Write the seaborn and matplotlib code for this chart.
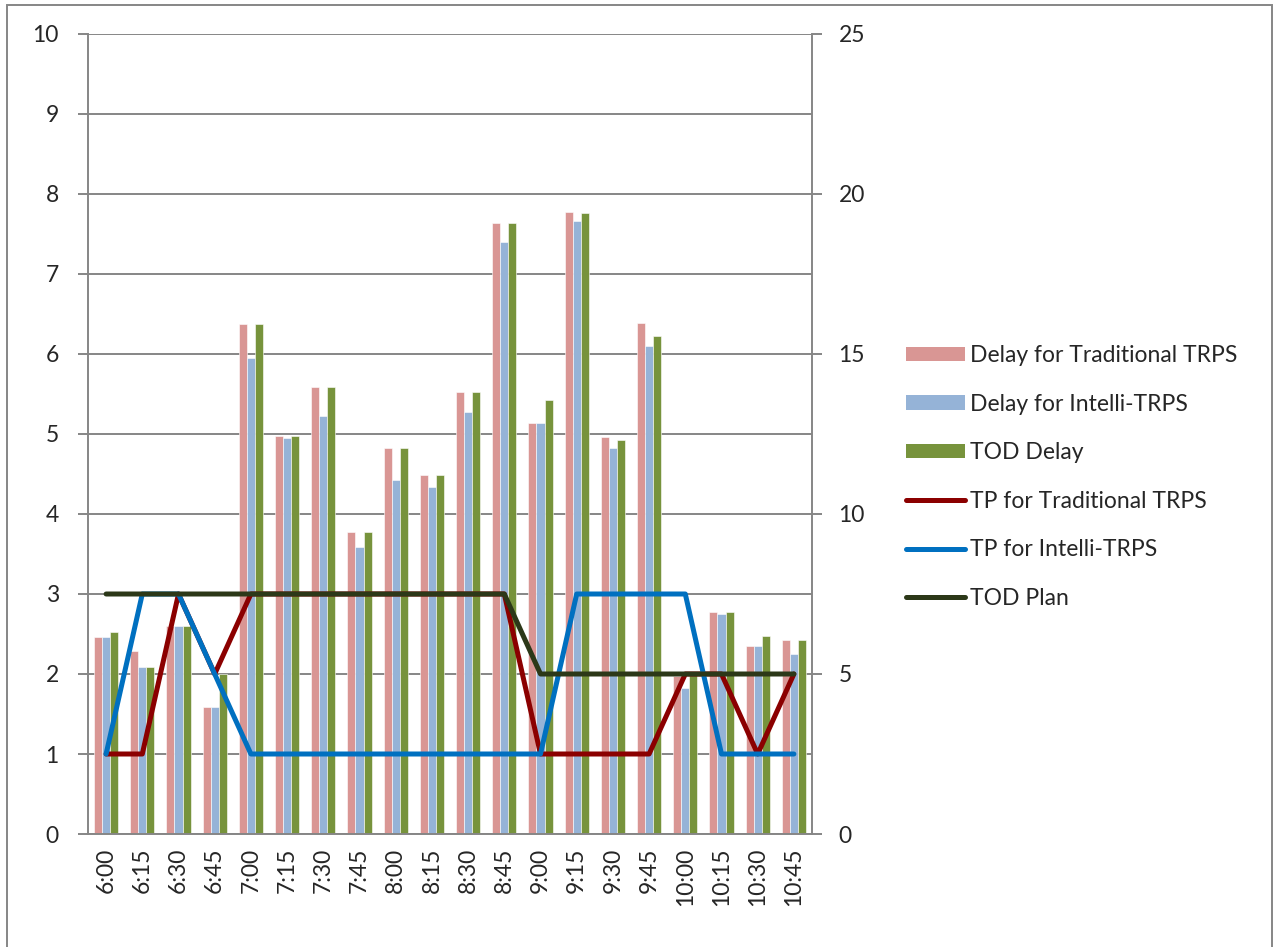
import numpy as np
import pandas as pd
import matplotlib
matplotlib.use("Agg")
import matplotlib.pyplot as plt
import seaborn as sns
from matplotlib.patches import Patch, Rectangle
from matplotlib.lines import Line2D

times = ['6:00', '6:15', '6:30', '6:45', '7:00', '7:15', '7:30', '7:45', '8:00', '8:15',
         '8:30', '8:45', '9:00', '9:15', '9:30', '9:45', '10:00', '10:15', '10:30', '10:45']

delay_trad = [2.46, 2.29, 2.60, 1.59, 6.38, 4.98, 5.59, 3.78, 4.83, 4.49,
              5.53, 7.64, 5.14, 7.78, 4.96, 6.39, 1.98, 2.77, 2.35, 2.42]
delay_intelli = [2.46, 2.09, 2.60, 1.59, 5.95, 4.95, 5.22, 3.59, 4.43, 4.34,
                 5.27, 7.40, 5.14, 7.66, 4.83, 6.10, 1.82, 2.75, 2.35, 2.25]
delay_tod = [2.53, 2.09, 2.60, 2.00, 6.38, 4.98, 5.59, 3.78, 4.83, 4.49,
             5.53, 7.64, 5.42, 7.76, 4.93, 6.22, 2.00, 2.77, 2.48, 2.42]

tp_trad = [1, 1, 3, 2, 3, 3, 3, 3, 3, 3, 3, 3, 1, 1, 1, 1, 2, 2, 1, 2]
tp_intelli = [1, 3, 3, 2, 1, 1, 1, 1, 1, 1, 1, 1, 1, 3, 3, 3, 3, 1, 1, 1]
tod_plan = [3, 3, 3, 3, 3, 3, 3, 3, 3, 3, 3, 3, 2, 2, 2, 2, 2, 2, 2, 2]

bar_names = ['Delay for Traditional TRPS', 'Delay for Intelli-TRPS', 'TOD Delay']
bar_colors = ['#D99694', '#95B3D7', '#77933C']
line_names = ['TP for Traditional TRPS', 'TP for Intelli-TRPS', 'TOD Plan']
line_colors = ['#8B0000', '#0070C0', '#2C3818']

sns.set_style('white')
plt.rcParams['font.family'] = ['Lato', 'DejaVu Sans']
fs = 16.5

bars = pd.DataFrame({'time': times * 3,
                     'delay': delay_trad + delay_intelli + delay_tod,
                     'series': np.repeat(bar_names, len(times))})

fig = plt.figure(figsize=(12.73, 9.47), dpi=100)
ax = fig.add_axes([88/1273, 1 - 834/947, (812-88)/1273, (834-34)/947])

grey = '#868686'
ax.set_ylim(0, 10)
ax.set_yticks(range(0, 11))
ax.yaxis.grid(True, color=grey, lw=1.4)
ax.set_axisbelow(True)

sns.barplot(data=bars, x='time', y='delay', hue='series', palette=bar_colors,
            width=0.665, gap=0, saturation=1, ax=ax, legend=False, zorder=2)
for p in ax.patches:
    p.set_edgecolor('white')
    p.set_linewidth(0.4)

pos = np.arange(len(times))
for vals, c in zip([tp_trad, tp_intelli, tod_plan], line_colors):
    sns.lineplot(x=pos, y=vals, color=c, lw=3.6, ax=ax, zorder=4,
                 solid_capstyle='round', solid_joinstyle='round')

ax.set_xlim(-0.5, len(times) - 0.5)
ax.set_xlabel('')
ax.set_ylabel('')
ax.set_xticks(pos)
ax.set_xticklabels(times, rotation=90, fontsize=fs)
ax.set_xticks(np.arange(-0.5, len(times)), minor=True)
ax.tick_params(axis='x', which='major', length=0, pad=10)
ax.tick_params(axis='x', which='minor', length=7, color=grey, width=1.4, direction='out')
ax.tick_params(axis='y', labelsize=fs, length=7, color=grey, width=1.4, direction='out', pad=14, left=True)
for s in ['top', 'right']:
    ax.spines[s].set_visible(False)
for s in ['left', 'bottom']:
    ax.spines[s].set_color(grey)
    ax.spines[s].set_linewidth(1.4)

ax2 = ax.twinx()
ax2.set_ylim(0, 25)
ax2.set_yticks(range(0, 26, 5))
ax2.tick_params(axis='y', labelsize=fs, length=7, color=grey, width=1.4, direction='out', pad=12, right=True)
for s in ['top', 'left', 'bottom']:
    ax2.spines[s].set_visible(False)
ax2.spines['right'].set_color(grey)
ax2.spines['right'].set_linewidth(1.4)
ax2.grid(False)

handles = [Patch(facecolor=c, edgecolor='none') for c in bar_colors]
handles += [Line2D([0], [0], color=c, lw=3.6, solid_capstyle='round') for c in line_colors]
fig.legend(handles, bar_names + line_names, loc='center left',
           bbox_to_anchor=(885/1273, 1 - 477/947), frameon=False, fontsize=fs,
           handlelength=2.6, handleheight=0.6, handletextpad=0.2, labelspacing=1.2)

fig.patches.append(Rectangle((7/1273, -0.01), (1272-7)/1273, 1 - 5/947 + 0.01,
                             transform=fig.transFigure, fill=False, edgecolor=grey, lw=1.4))

fig.savefig('out.png', dpi=100)
